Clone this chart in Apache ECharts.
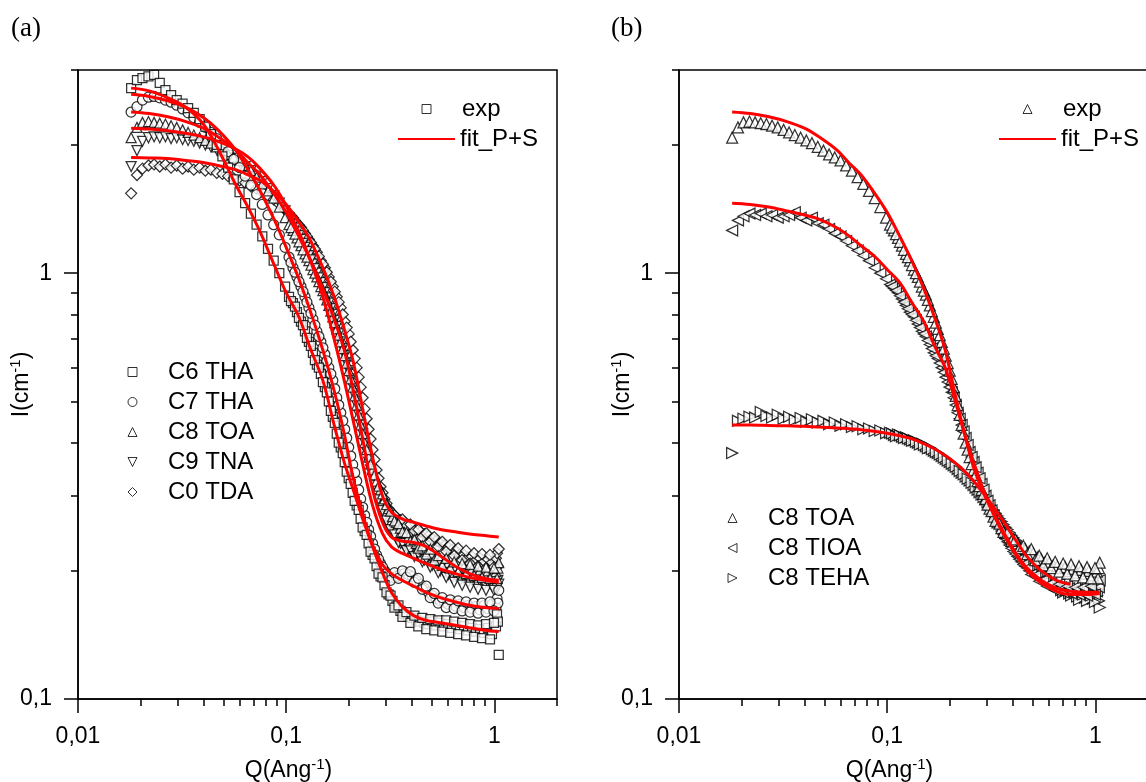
<!DOCTYPE html>
<html><head><meta charset="utf-8">
<script src="https://cdn.jsdelivr.net/npm/echarts@6/dist/echarts.min.js"></script>
<style>
html,body{margin:0;padding:0;overflow:hidden;background:#fff;width:1146px;height:782px}
#a{position:absolute;left:0;top:0;width:573px;height:782px}
#b{position:absolute;left:573px;top:0;width:600px;height:782px}
</style></head><body>
<div id="a"></div><div id="b"></div>
<script>
// ---------- DATA ----------
const xMajor = [0.01, 0.1, 1];
const xMinor = [0.02,0.03,0.04,0.05,0.06,0.07,0.08,0.09,0.2,0.3,0.4,0.5,0.6,0.7,0.8,0.9,2];
const yMajor = [0.1, 1];
const yMinor = [0.2,0.3,0.4,0.5,0.6,0.7,0.8,0.9,2,3];

// experimental Q points (1/Angstrom)
const qExp = [0.0180,0.0192,0.0204,0.0218,0.0232,0.0247,0.0263,0.0280,0.0298,0.0318,0.0338,0.0360,0.0384,0.0409,
0.0435,0.0464,0.0494,0.0526,0.0560,0.0597,0.0635,0.0677,0.0721,0.0768,0.0818,0.0871,0.0927,0.0988,
0.1032,0.1078,0.1127,0.1178,0.1231,0.1286,0.1344,0.1404,0.1468,0.1534,0.1603,0.1675,0.1750,0.1829,
0.1911,0.1997,0.2087,0.2181,0.2279,0.2382,0.2489,0.2601,0.2718,0.2840,0.2968,0.3102,0.3241,0.3387,
0.3540,0.3699,0.3866,0.4040,0.4221,0.4411,0.4610,0.4817,0.5034,0.5261,0.5497,0.5745,0.6003,0.6273,
0.6556,0.6851,0.7159,0.7481,0.7818,0.8170,0.8537,0.8921,0.9323,0.9742,1.018,1.03,1.04,1.05];
// additional experimental Q points in the dense high-Q region
const qExpB = [0.1055,0.1102,0.1152,0.1204,0.1258,0.1315,0.1374,0.1436,0.1501,0.1568,0.1639,0.1712,0.1789,
0.1870,0.1954,0.2042,0.2134,0.2230,0.2330,0.2435,0.2544,0.2659,0.2778,0.2903,0.3034,0.3171,
0.3313,0.3463,0.3619,0.3782,0.3952,0.4130,0.4315,0.4509,0.4712,0.4924,0.5146,0.5378,0.5620,
0.5873,0.6137,0.6413,0.6702,0.7003,0.7318,0.7648,0.7992,0.8352,0.8727,0.9120,0.9530,0.9958];

const c6tha = [2.72,2.84,2.87,2.90,2.92,2.80,2.69,2.62,2.55,2.50,2.44,2.38,2.30,2.21,
2.12,2.00,1.88,1.77,1.66,1.55,1.46,1.38,1.30,1.22,1.14,1.07,1.00,0.93,
0.88,0.85,0.81,0.77,0.73,0.69,0.65,0.61,0.58,0.54,0.50,0.46,0.42,0.39,
0.36,0.33,0.305,0.285,0.265,0.248,0.232,0.218,0.205,0.194,0.185,0.176,0.170,0.165,
0.161,0.158,0.156,0.155,0.153,0.152,0.151,0.150,0.152,0.149,0.151,0.148,0.150,0.147,
0.149,0.146,0.148,0.145,0.147,0.144,0.146,0.143,0.147,0.142,0.148,0.158,0.152,0.127];
const c6thaB = [0.86,0.835,0.785,0.755,0.705,0.675,0.625,0.6,0.555,0.525,0.475,0.445,0.4,
0.378,0.342,0.32,0.292,0.278,0.253,0.243,0.222,0.214,0.197,0.193,0.178,0.175,
0.164,0.166,0.156,0.16,0.151,0.157,0.148,0.155,0.146,0.154,0.145,0.153,0.144,
0.153,0.143,0.152,0.142,0.151,0.141,0.15,0.14,0.149,0.139,0.15,0.138,0.151];

const c7tha = [2.39,2.46,2.55,2.59,2.60,2.58,2.55,2.52,2.48,2.43,2.38,2.32,2.26,2.20,
2.14,2.07,2.00,1.93,1.85,1.77,1.69,1.61,1.53,1.45,1.37,1.30,1.23,1.15,
1.09,1.03,0.98,0.93,0.88,0.83,0.78,0.73,0.69,0.645,0.60,0.56,0.51,0.47,
0.43,0.39,0.355,0.325,0.295,0.27,0.25,0.232,0.218,0.208,0.200,0.195,0.193,0.194,
0.196,0.197,0.196,0.194,0.190,0.186,0.182,0.178,0.175,0.172,0.170,0.169,0.167,0.168,
0.165,0.167,0.164,0.166,0.163,0.165,0.162,0.166,0.163,0.167,0.164,0.172,0.168,0.180];
const c7thaB = [1.06,1.005,0.955,0.905,0.855,0.805,0.755,0.71,0.668,0.622,0.58,0.535,0.49,
0.45,0.41,0.372,0.34,0.31,0.282,0.26,0.241,0.225,0.213,0.204,0.197,0.19,
0.198,0.192,0.2,0.193,0.199,0.188,0.192,0.181,0.184,0.173,0.177,0.168,0.173,
0.164,0.171,0.163,0.17,0.161,0.169,0.16,0.168,0.159,0.168,0.16,0.169,0.161];

const c8toa = [2.08,2.20,2.26,2.27,2.26,2.25,2.24,2.22,2.20,2.17,2.14,2.11,2.08,2.05,
2.02,1.98,1.94,1.90,1.87,1.84,1.79,1.74,1.68,1.62,1.56,1.50,1.43,1.35,
1.30,1.26,1.21,1.16,1.11,1.07,1.02,0.98,0.93,0.89,0.84,0.79,0.74,0.69,
0.64,0.59,0.54,0.49,0.44,0.40,0.37,0.345,0.325,0.31,0.295,0.28,0.268,0.26,
0.252,0.246,0.24,0.236,0.232,0.228,0.225,0.222,0.22,0.215,0.213,0.21,0.209,0.206,
0.205,0.203,0.204,0.200,0.202,0.198,0.201,0.197,0.200,0.195,0.199,0.192,0.203,0.209];
const c8toaB = [1.28,1.235,1.185,1.135,1.09,1.045,1.0,0.955,0.91,0.865,0.815,0.765,0.715,
0.665,0.615,0.565,0.515,0.465,0.42,0.385,0.356,0.336,0.316,0.303,0.286,0.276,
0.262,0.258,0.247,0.246,0.235,0.237,0.226,0.229,0.219,0.225,0.212,0.217,0.206,
0.214,0.203,0.21,0.199,0.208,0.197,0.207,0.195,0.205,0.193,0.204,0.192,0.203];

const c9tna = [1.78,1.94,2.04,2.08,2.09,2.08,2.09,2.07,2.08,2.06,2.05,2.04,2.02,2.00,
1.98,1.95,1.92,1.89,1.86,1.82,1.78,1.74,1.69,1.64,1.58,1.52,1.46,1.40,
1.35,1.30,1.25,1.20,1.15,1.10,1.05,1.00,0.95,0.90,0.85,0.80,0.75,0.69,
0.64,0.59,0.54,0.49,0.44,0.40,0.36,0.33,0.305,0.285,0.268,0.255,0.245,0.238,
0.232,0.228,0.224,0.221,0.218,0.215,0.212,0.209,0.206,0.203,0.200,0.198,0.196,0.193,
0.194,0.190,0.192,0.188,0.190,0.186,0.189,0.185,0.188,0.184,0.187,0.182,0.190,0.186];
const c9tnaB = [1.325,1.275,1.225,1.175,1.125,1.075,1.025,0.975,0.925,0.875,0.825,0.775,0.72,
0.665,0.615,0.565,0.515,0.465,0.42,0.38,0.345,0.318,0.295,0.277,0.262,0.25,
0.243,0.233,0.232,0.223,0.224,0.216,0.219,0.21,0.213,0.204,0.208,0.198,0.203,
0.193,0.199,0.188,0.196,0.185,0.195,0.183,0.193,0.181,0.192,0.18,0.191,0.18];

const c0tda = [1.54,1.70,1.76,1.79,1.80,1.78,1.80,1.77,1.79,1.76,1.78,1.75,1.77,1.74,
1.75,1.72,1.71,1.69,1.67,1.65,1.63,1.60,1.58,1.55,1.52,1.49,1.45,1.41,
1.38,1.35,1.31,1.28,1.24,1.20,1.16,1.12,1.07,1.03,0.98,0.93,0.88,0.83,
0.77,0.72,0.66,0.60,0.54,0.48,0.43,0.385,0.345,0.315,0.295,0.28,0.272,0.267,
0.263,0.26,0.256,0.253,0.25,0.247,0.244,0.241,0.238,0.235,0.232,0.229,0.227,0.224,
0.222,0.219,0.218,0.215,0.216,0.212,0.214,0.21,0.213,0.209,0.214,0.22,0.205,0.225];
const c0tdaB = [1.365,1.33,1.295,1.26,1.22,1.18,1.14,1.095,1.05,1.005,0.955,0.905,0.855,
0.8,0.745,0.69,0.63,0.57,0.51,0.455,0.408,0.365,0.33,0.305,0.288,0.276,
0.27,0.262,0.264,0.255,0.257,0.248,0.25,0.24,0.245,0.234,0.24,0.228,0.234,
0.222,0.23,0.217,0.226,0.212,0.223,0.208,0.22,0.205,0.219,0.203,0.218,0.204];

const c8tioa = [1.26,1.33,1.36,1.38,1.37,1.38,1.36,1.37,1.35,1.36,1.37,1.39,1.35,1.33,
1.35,1.31,1.30,1.27,1.24,1.22,1.19,1.16,1.13,1.10,1.07,1.03,1.00,0.97,
0.94,0.92,0.90,0.87,0.84,0.81,0.79,0.76,0.73,0.71,0.68,0.65,0.63,0.60,
0.57,0.54,0.51,0.47,0.44,0.41,0.38,0.36,0.34,0.32,0.30,0.285,0.27,0.258,
0.248,0.238,0.23,0.222,0.216,0.21,0.205,0.2,0.197,0.193,0.19,0.188,0.186,0.184,
0.182,0.183,0.18,0.182,0.179,0.181,0.178,0.181,0.177,0.182,0.179,0.186,0.183,0.19];
const c8tioaB = [0.93,0.91,0.885,0.855,0.825,0.8,0.775,0.745,0.72,0.695,0.665,0.64,0.615,
0.585,0.555,0.525,0.49,0.455,0.425,0.395,0.37,0.35,0.33,0.31,0.292,0.277,
0.264,0.253,0.243,0.234,0.226,0.219,0.213,0.207,0.203,0.196,0.195,0.189,0.19,
0.184,0.187,0.18,0.186,0.178,0.184,0.177,0.183,0.176,0.183,0.175,0.184,0.176];

const c8teha = [0.378,0.45,0.455,0.46,0.458,0.472,0.462,0.458,0.465,0.455,0.46,0.452,0.457,0.448,
0.454,0.446,0.45,0.442,0.446,0.438,0.442,0.435,0.437,0.43,0.432,0.426,0.427,0.421,
0.422,0.417,0.418,0.413,0.412,0.407,0.405,0.4,0.398,0.392,0.389,0.383,0.378,0.372,
0.366,0.36,0.354,0.347,0.34,0.333,0.326,0.318,0.31,0.302,0.294,0.286,0.277,0.269,
0.261,0.253,0.246,0.239,0.232,0.226,0.22,0.214,0.209,0.204,0.199,0.195,0.191,0.188,
0.185,0.18,0.182,0.177,0.179,0.174,0.177,0.173,0.176,0.172,0.175,0.18,0.17,0.164];
const c8tehaB = [0.42,0.414,0.416,0.41,0.409,0.404,0.402,0.396,0.395,0.388,0.386,0.38,0.375,
0.369,0.363,0.357,0.351,0.343,0.337,0.329,0.322,0.314,0.306,0.298,0.29,0.281,
0.273,0.265,0.257,0.25,0.242,0.236,0.229,0.223,0.217,0.212,0.206,0.202,0.197,
0.193,0.19,0.186,0.184,0.178,0.181,0.175,0.178,0.171,0.176,0.17,0.175,0.169];

// fitted curves (fit_P+S)
const qFit = [0.018,0.022,0.027,0.033,0.04,0.047,0.057,0.066,0.075,0.088,0.1,0.115,0.13,0.15,0.17,
0.19,0.21,0.235,0.26,0.29,0.32,0.36,0.41,0.47,0.55,0.65,0.76,0.9,1.05];
const fitC6 = [2.72,2.68,2.58,2.45,2.24,1.96,1.62,1.42,1.25,1.04,0.9,0.79,0.67,0.56,0.44,
0.36,0.31,0.262,0.228,0.198,0.178,0.165,0.157,0.153,0.151,0.149,0.147,0.145,0.144];
const fitC7 = [2.63,2.6,2.54,2.45,2.32,2.17,1.95,1.74,1.56,1.33,1.15,0.97,0.82,0.66,0.53,
0.42,0.33,0.268,0.23,0.207,0.197,0.19,0.184,0.178,0.173,0.169,0.166,0.164,0.163];
const fitC8 = [2.39,2.37,2.33,2.27,2.19,2.09,1.95,1.81,1.7,1.53,1.39,1.22,1.08,0.92,0.78,
0.66,0.53,0.4,0.31,0.26,0.24,0.235,0.233,0.228,0.217,0.205,0.197,0.192,0.19];
const fitC9 = [2.19,2.18,2.16,2.13,2.09,2.04,1.96,1.87,1.76,1.6,1.44,1.25,1.08,0.88,0.7,
0.56,0.45,0.35,0.285,0.245,0.228,0.22,0.214,0.208,0.202,0.197,0.193,0.19,0.188];
const fitC0 = [1.87,1.865,1.86,1.84,1.82,1.79,1.75,1.7,1.65,1.55,1.45,1.32,1.2,1.03,0.88,
0.74,0.62,0.47,0.37,0.3,0.275,0.265,0.26,0.255,0.25,0.247,0.244,0.242,0.24];
const fitTOA = [2.39,2.37,2.33,2.27,2.19,2.09,1.95,1.81,1.7,1.53,1.39,1.22,1.08,0.92,0.78,
0.66,0.53,0.42,0.35,0.305,0.275,0.245,0.22,0.2,0.187,0.179,0.176,0.176,0.177];
const fitTIOA = [1.46,1.45,1.43,1.4,1.37,1.34,1.28,1.22,1.16,1.09,1.02,0.95,0.86,0.77,0.67,
0.6,0.51,0.42,0.36,0.31,0.278,0.248,0.222,0.203,0.19,0.182,0.179,0.178,0.178];
const fitTEHA = [0.44,0.44,0.439,0.438,0.437,0.435,0.433,0.431,0.429,0.425,0.421,0.415,0.409,0.398,0.386,
0.373,0.36,0.343,0.325,0.304,0.285,0.262,0.238,0.216,0.2,0.19,0.186,null,null];

// ---------- STYLE / BUILD ----------
const FONT = '"Liberation Sans", Arial, Helvetica, sans-serif';
const SERIF = '"Liberation Serif", "Times New Roman", serif';
const fmt = v => String(v).replace('.', ',');
function pairs(xs, ys){ const o=[]; for(let i=0;i<xs.length;i++){ if(ys[i]!=null) o.push([xs[i], ys[i]]); } return o; }
const axisLineStyle = {color:'#000', width:1.5};
const tickTxt = {fontFamily:FONT, fontSize:23, color:'#000'};
const legTxt = {fontFamily:FONT, fontSize:24, color:'#000', lineHeight:24};
const legTxtPad = {...legTxt, padding:[0,0,0,26]};
const markerStyle = {color:'#fff', borderColor:'#000', borderWidth:1.25};
const legMarker = {color:'#fff', borderColor:'#000', borderWidth:1};
// legend icon shapes (triangles pointing down / left / right)
const ICON = {
  rect:'rect', circle:'circle', triangle:'triangle', diamond:'diamond',
  down:'path://M0,0L10,0L5,10Z', left:'path://M10,0L10,10L0,5Z', right:'path://M0,0L10,5L0,10Z'
};

function expSeries(name, data, symbol, size, rotate){
  return {name, type:'scatter', data: data, symbol, symbolSize:size, symbolRotate: rotate||0,
    itemStyle: markerStyle, emphasis:{disabled:true}, z:2};
}
function fitSeries(data){
  return {name:'fit_P+S', type:'line', data, showSymbol:false, symbol:'none', smooth:0.35,
    lineStyle:{color:'#ff0000', width:3}, itemStyle:{color:'#ff0000'}, emphasis:{disabled:true}, z:5};
}
const richName = {t:{fontFamily:FONT, fontSize:23, color:'#000', lineHeight:28},
                  s:{fontFamily:FONT, fontSize:15, color:'#000', verticalAlign:'top', lineHeight:15}};

function panel(cfg){
  return {
    animation:false,
    backgroundColor:'#fff',
    title:{text:cfg.label, left:cfg.labelLeft, top:15, padding:0,
      textStyle:{fontFamily:SERIF, fontSize:27, fontWeight:'normal', color:'#000'}},
    grid:{left:cfg.gridLeft, top:70, width:479, height:629, show:true, borderColor:'#000', borderWidth:1.5,
      backgroundColor:'transparent', containLabel:false, outerBoundsMode:'none'},
    xAxis:[
      {type:'log', logBase:10, min:0.01, max:2, position:'bottom',
       axisLine:{show:true, onZero:false, lineStyle:axisLineStyle},
       axisTick:{show:true, length:14, lineStyle:axisLineStyle, customValues:xMajor},
       axisLabel:{show:true, customValues:xMajor, formatter:fmt, margin:26, ...tickTxt},
       splitLine:{show:false}, minorTick:{show:false},
       name:'{t|Q(Ang}{s|-1}{t|)}', nameLocation:'middle', nameGap:58, nameMoveOverlap:false,
       nameTextStyle:{padding:[0,58,0,0], rich:richName}},
      {type:'log', logBase:10, min:0.01, max:2, position:'bottom',
       axisLine:{show:false}, axisLabel:{show:false}, splitLine:{show:false},
       axisTick:{show:true, length:7, lineStyle:axisLineStyle, customValues:xMinor}}
    ],
    yAxis:[
      {type:'log', logBase:10, min:0.1, max:3, position:'left',
       axisLine:{show:true, onZero:false, lineStyle:axisLineStyle},
       axisTick:{show:true, length:14, lineStyle:axisLineStyle, customValues:yMajor},
       axisLabel:{show:true, customValues:yMajor, formatter:fmt, margin:26, ...tickTxt},
       splitLine:{show:false},
       name:'{t|I(cm}{s|-1}{t|)}', nameLocation:'middle', nameGap:42, nameMoveOverlap:false,
       nameTextStyle:{rich:richName}},
      {type:'log', logBase:10, min:0.1, max:3, position:'left',
       axisLine:{show:false}, axisLabel:{show:false}, splitLine:{show:false},
       axisTick:{show:true, length:7, lineStyle:axisLineStyle, customValues:yMinor}}
    ],
    legend:[
      {data:[{name:'exp', itemStyle:legMarker, icon:ICON[cfg.expIcon]}],
       orient:'vertical', left:cfg.expLeft, top:97, padding:0,
       itemWidth:9, itemHeight:9, selectedMode:false, textStyle:legTxtPad},
      {data:[{name:'fit_P+S', itemStyle:{opacity:0}}],
       orient:'vertical', left:cfg.fitLeft, top:127, padding:0,
       itemWidth:57, itemHeight:8, selectedMode:false, textStyle:legTxt},
      {data:cfg.names.map((n,i)=>({name:n, itemStyle:legMarker, icon:ICON[cfg.icons[i]]})),
       orient:'vertical', left:cfg.lowLegendLeft, top:cfg.lowLegendTop, padding:0,
       itemWidth:9, itemHeight:9, itemGap:6, selectedMode:false, textStyle:legTxtPad}
    ],
    series: cfg.series
  };
}

const optA = panel({
  label:'(a)', labelLeft:11, gridLeft:78, expLeft:421.5, fitLeft:397, lowLegendLeft:127.5, lowLegendTop:360,
  expIcon:'rect',
  names:['C6 THA','C7 THA','C8 TOA','C9 TNA','C0 TDA'], icons:['rect','circle','triangle','down','diamond'],
  series:[
    expSeries('exp', [], 'rect', 8),
    expSeries('C0 TDA', pairs(qExp, c0tda).concat(pairs(qExpB, c0tdaB)), 'diamond', 11),
    expSeries('C9 TNA', pairs(qExp, c9tna).concat(pairs(qExpB, c9tnaB)), 'triangle', 10, 180),
    expSeries('C8 TOA', pairs(qExp, c8toa).concat(pairs(qExpB, c8toaB)), 'triangle', 10),
    expSeries('C7 THA', pairs(qExp, c7tha).concat(pairs(qExpB, c7thaB)), 'circle', 10),
    expSeries('C6 THA', pairs(qExp, c6tha).concat(pairs(qExpB, c6thaB)), 'rect', 9),
    fitSeries(pairs(qFit, fitC6)),
    fitSeries(pairs(qFit, fitC7)),
    fitSeries(pairs(qFit, fitC8)),
    fitSeries(pairs(qFit, fitC9)),
    fitSeries(pairs(qFit, fitC0))
  ]
});

const optB = panel({
  label:'(b)', labelLeft:38, gridLeft:106, expLeft:449.5, fitLeft:425, lowLegendLeft:154.5, lowLegendTop:506,
  expIcon:'triangle',
  names:['C8 TOA','C8 TIOA','C8 TEHA'], icons:['triangle','left','right'],
  series:[
    expSeries('exp', [], 'triangle', 9),
    expSeries('C8 TEHA', pairs(qExp, c8teha).concat(pairs(qExpB, c8tehaB)), 'triangle', 11, -90),
    expSeries('C8 TIOA', pairs(qExp, c8tioa).concat(pairs(qExpB, c8tioaB)), 'triangle', 11, 90),
    expSeries('C8 TOA', pairs(qExp, c8toa).concat(pairs(qExpB, c8toaB)), 'triangle', 11),
    fitSeries(pairs(qFit, fitTOA)),
    fitSeries(pairs(qFit, fitTIOA)),
    fitSeries(pairs(qFit, fitTEHA))
  ]
});

echarts.init(document.getElementById('a'), null, {renderer:'canvas'}).setOption(optA);
echarts.init(document.getElementById('b'), null, {renderer:'canvas'}).setOption(optB);
</script>
</body></html>
